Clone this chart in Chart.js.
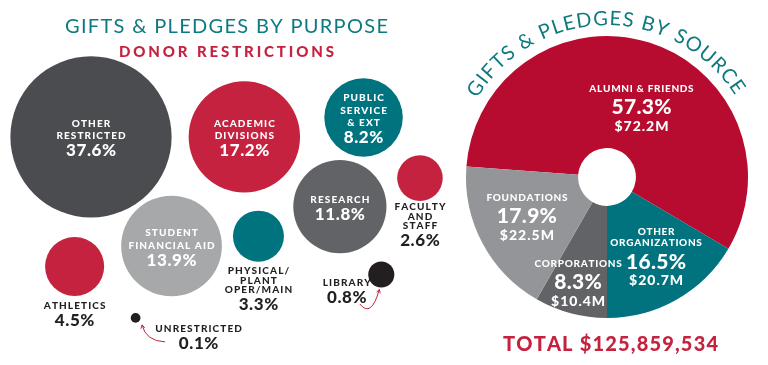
<!DOCTYPE html>
<html>
<head>
<meta charset="utf-8">
<script src="https://cdn.jsdelivr.net/npm/chart.js@4"></script>
<style>
  html, body { margin: 0; padding: 0; background: #fff; }
  #wrap { position: relative; width: 768px; height: 365px; overflow: hidden; }
  #purpose { position: absolute; left: 0; top: 0; }
  #source { position: absolute; left: 455px; top: 0; }
</style>
</head>
<body>
<div id="wrap">
  <canvas id="purpose" width="455" height="365"></canvas>
  <canvas id="source" width="313" height="365"></canvas>
</div>
<script>
// ---- data: gifts & pledges by purpose (donor restrictions) ----
const purposeLabels = [
  ['OTHER', 'RESTRICTED'], ['ACADEMIC', 'DIVISIONS'], ['STUDENT', 'FINANCIAL AID'],
  ['RESEARCH'], ['PUBLIC', 'SERVICE', '& EXT'], ['ATHLETICS'],
  ['PHYSICAL/', 'PLANT', 'OPER/MAIN'], ['FACULTY', 'AND', 'STAFF'], ['LIBRARY'], ['UNRESTRICTED']
];
const purposePct = [37.6, 17.2, 13.9, 11.8, 8.2, 4.5, 3.3, 2.6, 0.8, 0.1];
// bubble centres on a 0-100 layout grid (y grows downward)
const bubbleX = [20.0, 53.7, 37.7, 74.7, 79.9, 16.4, 56.8, 92.3, 83.8, 29.8];
const bubbleY = [37.5, 37.5, 67.4, 56.6, 32.2, 73.0, 64.7, 48.8, 75.2, 87.1];

// ---- data: gifts & pledges by source ----
const sourceLabels = [['ALUMNI & FRIENDS'], ['OTHER', 'ORGANIZATIONS'], ['CORPORATIONS'], ['FOUNDATIONS']];
const sourcePct = [57.3, 16.5, 8.3, 17.9];
const sourceAmount = ['$72.2M', '$20.7M', '$10.4M', '$22.5M'];
const totalGifts = 125859534;

// ---- styles ----
const TEAL = '#0E7A80', RED = '#C5223F', INK = '#231F20';
const purposeColors = ['#4B4C4F', '#C5223F', '#A7A8AA', '#626367', '#00747E',
                       '#C5223F', '#00747E', '#C5223F', '#231F20', '#231F20'];
const sourceColors = ['#B70C2F', '#00737E', '#626366', '#949598'];
const FONT = 'Lato, "Open Sans", sans-serif';

// labels that sit outside their bubble: [dx, dy] of first line from the centre
const outsideLabels = { 5: [0, 39], 6: [0, 34.5], 7: [0, 28.5], 8: [-34.5, 7.5], 9: [63, 10] };
// little red arrows: start, control, end relative to the dot centre
const arrows = { 8: [[-21.5, 29.5], [-10, 44], [-2, 15]], 9: [[29.5, 24], [10, 23], [6.5, 7]] };
// source label nudges from the arc centroid
const sourceNudge = [[9, 11], [7, 5], [-7, 23], [-5, -1]];

const radiusFor = p => 14.5 * Math.pow(p, 0.473);

// draw text char by char with tracking, centred on cx, caps centred on cy
function spaced(ctx, str, cx, cy, size, weight, spacing, color) {
  ctx.font = weight + ' ' + size + 'px ' + FONT;
  ctx.fillStyle = color;
  ctx.textAlign = 'left';
  ctx.textBaseline = 'alphabetic';
  const chars = [...str];
  const w = chars.map(c => ctx.measureText(c).width);
  const total = w.reduce((a, b) => a + b, 0) + spacing * (chars.length - 1);
  let x = cx - total / 2;
  const y = cy + size * 0.36;
  chars.forEach((c, i) => { ctx.fillText(c, x, y); x += w[i] + spacing; });
}
function fitted(ctx, str, cx, cy, size, weight, width, color) {
  ctx.font = weight + ' ' + size + 'px ' + FONT;
  const natural = [...str].reduce((a, c) => a + ctx.measureText(c).width, 0);
  spaced(ctx, str, cx, cy, size, weight, (width - natural) / (str.length - 1), color);
}

function arrow(ctx, x, y, a) {
  const [s, c, e] = a;
  ctx.save();
  ctx.strokeStyle = RED;
  ctx.lineWidth = 1;
  ctx.beginPath();
  ctx.moveTo(x + s[0], y + s[1]);
  ctx.quadraticCurveTo(x + c[0], y + c[1], x + e[0], y + e[1]);
  ctx.stroke();
  const ang = Math.atan2(e[1] - c[1], e[0] - c[0]);
  ctx.beginPath();
  ctx.moveTo(x + e[0] - 4 * Math.cos(ang - 0.5), y + e[1] - 4 * Math.sin(ang - 0.5));
  ctx.lineTo(x + e[0], y + e[1]);
  ctx.lineTo(x + e[0] - 4 * Math.cos(ang + 0.5), y + e[1] - 4 * Math.sin(ang + 0.5));
  ctx.stroke();
  ctx.restore();
}

const purposeText = {
  id: 'purposeText',
  afterDatasetsDraw(chart) {
    const ctx = chart.ctx;
    const mid = chart.width / 2 - 1;
    fitted(ctx, 'GIFTS & PLEDGES BY PURPOSE', mid, 26, 20, 400, 323, TEAL);
    fitted(ctx, 'DONOR RESTRICTIONS', mid, 52, 15, 900, 215, RED);

    chart.getDatasetMeta(0).data.forEach((pt, i) => {
      const lines = purposeLabels[i];
      const pct = purposePct[i].toFixed(1) + '%';
      const out = outsideLabels[i];
      if (out) {
        let y = pt.y + out[1];
        lines.forEach((l, k) => spaced(ctx, l, pt.x + out[0], y + k * 9.5, 10, 900, 1.1, INK));
        spaced(ctx, pct, pt.x + out[0], y + (lines.length - 1) * 9.5 + 14.5, 17, 900, 0.6, INK);
        if (arrows[i]) arrow(ctx, pt.x, pt.y, arrows[i]);
      } else {
        const h = (lines.length - 1) * 12.5 + 14.5;
        let y = pt.y - h / 2;
        lines.forEach((l, k) => spaced(ctx, l, pt.x, y + k * 12.5, 10, 900, 1.1, '#fff'));
        spaced(ctx, pct, pt.x, y + h, 17, 900, 0.6, '#fff');
      }
    });
  }
};

new Chart(document.getElementById('purpose'), {
  type: 'bubble',
  data: {
    datasets: [{
      data: purposePct.map((p, i) => ({ x: bubbleX[i], y: bubbleY[i], r: radiusFor(p) })),
      backgroundColor: purposeColors,
      borderWidth: 0,
      hoverBorderWidth: 0,
      clip: false
    }]
  },
  options: {
    responsive: false,
    animation: false,
    events: [],
    layout: { padding: 0, autoPadding: false },
    scales: {
      x: { type: 'linear', min: 0, max: 100, display: false },
      y: { type: 'linear', min: 0, max: 100, reverse: true, display: false }
    },
    plugins: { legend: { display: false }, tooltip: { enabled: false } }
  },
  plugins: [purposeText]
});

const sourceText = {
  id: 'sourceText',
  afterDraw(chart) {
    const ctx = chart.ctx;
    const a = chart.chartArea;
    const cx = (a.left + a.right) / 2, cy = (a.top + a.bottom) / 2;

    // curved heading around the top of the pie
    const title = 'GIFTS & PLEDGES BY SOURCE';
    const size = 20, R = 159;
    ctx.font = '400 ' + size + 'px ' + FONT;
    const chars = [...title];
    const w = chars.map(c => ctx.measureText(c).width);
    const from = -56.1 * Math.PI / 180, to = 55.3 * Math.PI / 180;
    const natural = w.reduce((s, v) => s + v, 0) - w[0] / 2 - w[w.length - 1] / 2;
    const track = ((to - from) * R - natural) / (chars.length - 1);
    let pos = 0;
    ctx.fillStyle = TEAL;
    ctx.textAlign = 'center';
    ctx.textBaseline = 'alphabetic';
    chars.forEach((c, i) => {
      if (i > 0) pos += w[i - 1] / 2 + track + w[i] / 2;
      ctx.save();
      ctx.translate(cx, cy);
      ctx.rotate(from + pos / R);
      ctx.fillText(c, 0, -(R - size * 0.36));
      ctx.restore();
    });

    // slice labels
    chart.getDatasetMeta(0).data.forEach((arc, i) => {
      const p = arc.tooltipPosition();
      const x = p.x + sourceNudge[i][0], y0 = p.y + sourceNudge[i][1];
      const lines = sourceLabels[i];
      const h = (lines.length - 1) * 11.5 + 18.5 + 19;
      let y = y0 - h / 2;
      lines.forEach((l, k) => spaced(ctx, l, x, y + k * 11.5, 10, 900, 0.7, '#fff'));
      y += (lines.length - 1) * 11.5 + 18.5;
      spaced(ctx, sourcePct[i].toFixed(1) + '%', x, y, 21, 900, 0.3, '#fff');
      spaced(ctx, sourceAmount[i], x, y + 19, 14, 900, 1, '#fff');
    });

    const total = 'TOTAL $' + totalGifts.toLocaleString('en-US');
    fitted(ctx, total, cx + 3.5, 344, 20, 900, 215, RED);
  }
};

new Chart(document.getElementById('source'), {
  type: 'doughnut',
  data: {
    labels: sourceLabels.map(l => l.join(' ')),
    datasets: [{ data: sourcePct, backgroundColor: sourceColors, borderWidth: 0, hoverOffset: 0 }]
  },
  options: {
    responsive: false,
    animation: false,
    events: [],
    // corporations begin at six o'clock, the rest follow from there
    rotation: 180 - (sourcePct[0] + sourcePct[1]) * 3.6,
    cutout: '20.5%',
    layout: { padding: { left: 11, right: 20, top: 36, bottom: 47 } },
    plugins: { legend: { display: false }, tooltip: { enabled: false } }
  },
  plugins: [sourceText]
});
</script>
</body>
</html>
